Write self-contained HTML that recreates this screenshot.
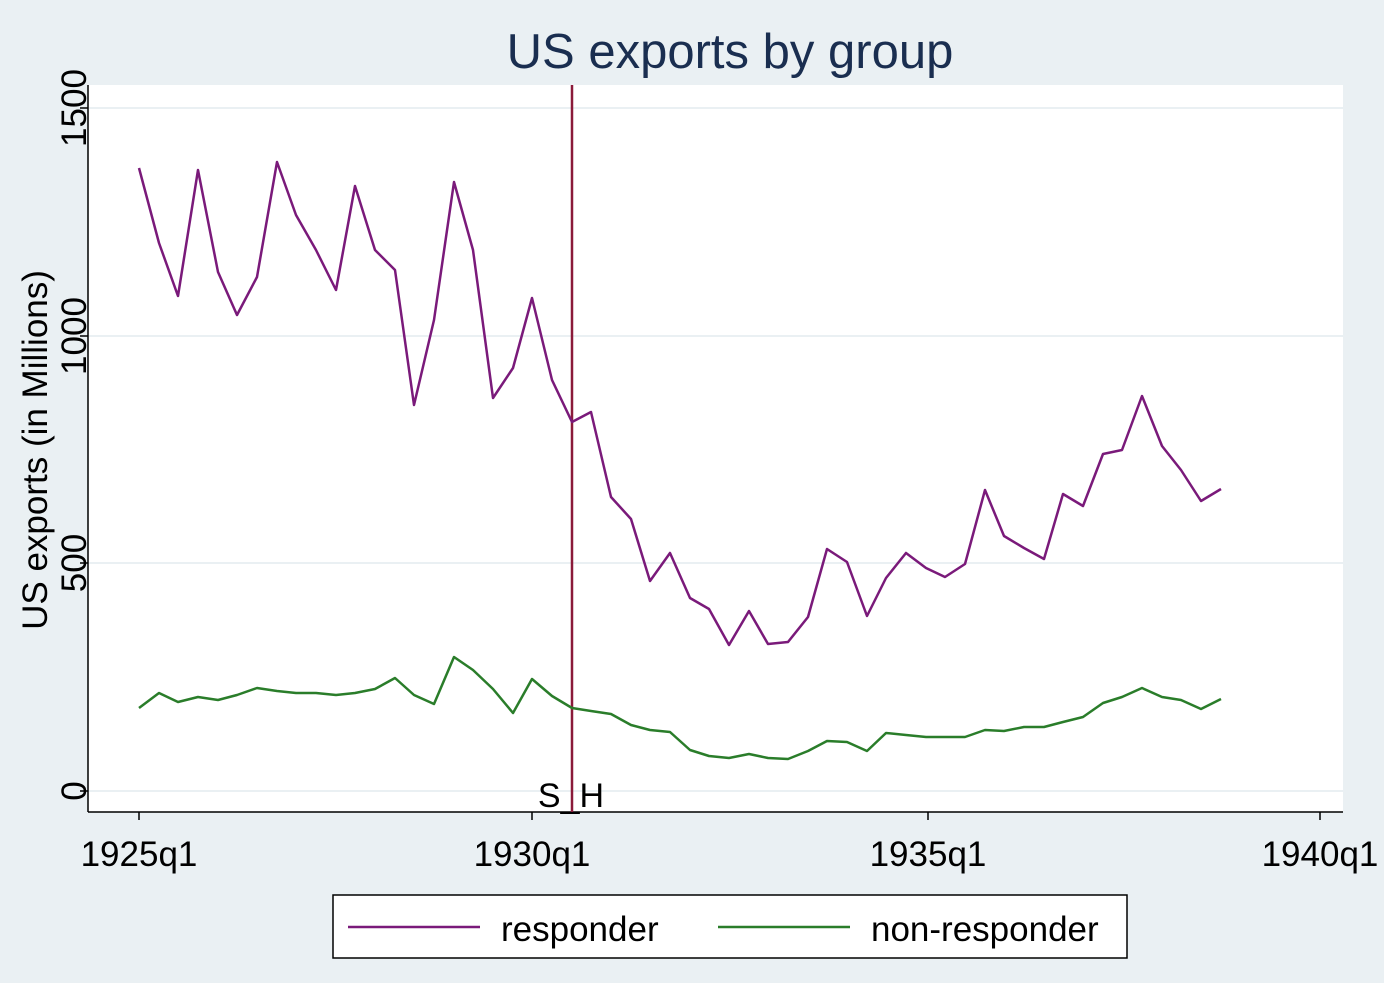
<!DOCTYPE html>
<html><head><meta charset="utf-8"><style>
html,body{margin:0;padding:0;background:#eaf0f3;}
svg{display:block;font-family:"Liberation Sans",Arial,sans-serif;}
</style></head><body>
<svg width="1384" height="983" viewBox="0 0 1384 983" xmlns="http://www.w3.org/2000/svg">
<rect width="1384" height="983" fill="#eaf0f3"/>
<rect x="88" y="85" width="1255" height="727" fill="#fff"/>
<g stroke="#eaf0f3" stroke-width="2">
<line x1="88" y1="108" x2="1343" y2="108"/>
<line x1="88" y1="336" x2="1343" y2="336"/>
<line x1="88" y1="563" x2="1343" y2="563"/>
<line x1="88" y1="791" x2="1343" y2="791"/>
</g>
<g stroke="#000" stroke-width="1.5" fill="none">
<line x1="88" y1="85" x2="88" y2="812"/>
<line x1="88" y1="812" x2="1343" y2="812"/>
<line x1="80" y1="108" x2="88" y2="108"/><line x1="80" y1="336" x2="88" y2="336"/>
<line x1="80" y1="563" x2="88" y2="563"/><line x1="80" y1="791" x2="88" y2="791"/>
<line x1="139" y1="812" x2="139" y2="820"/><line x1="532" y1="812" x2="532" y2="820"/>
<line x1="928" y1="812" x2="928" y2="820"/><line x1="1320" y1="812" x2="1320" y2="820"/>
</g>
<g font-size="35" fill="#000" text-anchor="middle">
<text transform="translate(86,108) rotate(-90)">1500</text>
<text transform="translate(86,336) rotate(-90)">1000</text>
<text transform="translate(86,563) rotate(-90)">500</text>
<text transform="translate(86,791) rotate(-90)">0</text>
<text transform="translate(47,450) rotate(-90)">US exports (in Millions)</text>
<text x="139" y="866">1925q1</text><text x="532" y="866">1930q1</text>
<text x="928" y="866">1935q1</text><text x="1320" y="866">1940q1</text>
<text x="571" y="807" font-size="34">S_H</text>
</g>
<text x="730" y="68" font-size="49" fill="#1a2e50" text-anchor="middle">US exports by group</text>
<line x1="572" y1="85" x2="572" y2="812" stroke="#8b1a3a" stroke-width="2.5"/>
<polyline fill="none" stroke="#7a1a7a" stroke-width="2.5" stroke-linejoin="round" points="139,168 159,243 178,296 198,170 218,272 237,315 257,277 277,162 296,215 316,250 336,290 355,186 375,250 395,270 414,405 434,320 454,182 473,250 493,398 513,368 532,298 552,380 572,422 591,412 611,497 631,519 650,581 670,553 690,598 709,609 729,645 749,611 768,644 788,642 808,617 827,549 847,562 867,616 886,578 906,553 926,568 945,577 965,564 985,490 1004,536 1024,548 1044,559 1063,494 1083,506 1103,454 1122,450 1142,396 1162,446 1181,470 1201,501 1221,489"/>
<polyline fill="none" stroke="#2a7d2a" stroke-width="2.5" stroke-linejoin="round" points="139,708 159,693 178,702 198,697 218,700 237,695 257,688 277,691 296,693 316,693 336,695 355,693 375,689 395,678 414,695 434,704 454,657 473,670 493,689 513,713 532,679 552,696 572,708 591,711 611,714 631,725 650,730 670,732 690,750 709,756 729,758 749,754 768,758 788,759 808,751 827,741 847,742 867,751 886,733 906,735 926,737 945,737 965,737 985,730 1004,731 1024,727 1044,727 1063,722 1083,717 1103,703 1122,697 1142,688 1162,697 1181,700 1201,709 1221,699"/>
<rect x="333" y="895" width="794" height="63" fill="#fff" stroke="#000" stroke-width="1.5"/>
<line x1="348" y1="927" x2="480" y2="927" stroke="#7a1a7a" stroke-width="2.5"/>
<line x1="718" y1="927" x2="850" y2="927" stroke="#2a7d2a" stroke-width="2.5"/>
<text x="501" y="941" font-size="35" fill="#000">responder</text>
<text x="871" y="941" font-size="35" fill="#000">non-responder</text>
</svg>
</body></html>
